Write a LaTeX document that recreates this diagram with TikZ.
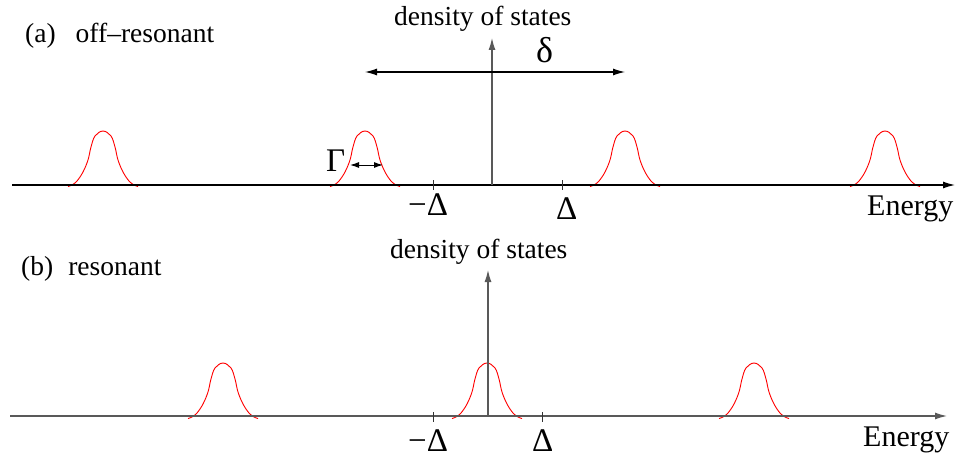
\documentclass[tikz,border=0pt]{standalone}
\usepackage{fontspec}
\setmainfont{Liberation Serif}
\usetikzlibrary{arrows.meta}
\tikzset{
  axisline/.style={line width=1.2pt, draw=black},
  axisgray/.style={line width=1.2pt, draw=black!65},
  arr/.style={-{Latex[length=12pt,width=7pt]}},
  darr/.style={{Latex[length=12pt,width=7pt]}-{Latex[length=12pt,width=7pt]}},
  sarr/.style={{Latex[length=9pt,width=6pt]}-{Latex[length=9pt,width=6pt]}, line width=1pt},
  pulse/.style={draw=red, line width=0.9pt},
  tick/.style={line width=1pt, draw=black!80},
  lbl/.style={font=\fontsize{27.5}{30}\selectfont, anchor=base west, inner sep=0pt},
  elbl/.style={font=\fontsize{30}{32}\selectfont, anchor=base west, inner sep=0pt},
  dlbl/.style={font=\fontsize{36}{38}\selectfont, anchor=base west, inner sep=0pt},
  glbl/.style={font=\fontsize{33}{35}\selectfont, anchor=base west, inner sep=0pt},
}
\newcommand\drawpulse[2]{\draw[pulse, shift={(#1,#2)}] plot[smooth, tension=0.6] coordinates {(-35,1.5) (-31,0) (-26,-4) (-20,-13) (-15,-25) (-12,-38) (-8,-49) (0,-54) (8,-49) (12,-38) (15,-25) (20,-13) (26,-4) (31,0) (35,1.5)};}
\begin{document}
\begin{tikzpicture}[x=1pt,y=-1pt]
\useasboundingbox (0,0) rectangle (961,460);
% ---------- panel (a)
\coordinate (a0) at (12,185);
\coordinate (a1) at (955,185);
\coordinate (av0) at (492,185);
\coordinate (av1) at (492,38);
\coordinate (d0) at (365,72);
\coordinate (d1) at (625,72);
\coordinate (g0) at (350,165);
\coordinate (g1) at (383,165);
\drawpulse{103}{185}
\drawpulse{365}{185}
\drawpulse{625}{185}
\drawpulse{885}{185}
\draw[axisline, arr] (a0) -- (a1);
\draw[axisgray, arr] (av0) -- (av1);
\draw[line width=1.1pt, darr] (d0) -- (d1);
\draw[sarr] (g0) -- (g1);
\coordinate (ta1) at (433,180); \coordinate (ta2) at (433,190);
\coordinate (tb1) at (562,180); \coordinate (tb2) at (562,190);
\draw[tick] (ta1) -- (ta2);
\draw[tick] (tb1) -- (tb2);
\node[lbl] (la) at (25,43) {(a)\hspace{20pt}off–resonant};
\node[lbl] (dosa) at (394,26) {density of states};
\node[dlbl] (delta) at (536,63) {δ};
\node[glbl] (gam) at (326,171) {Γ};
\node[glbl] (mda) at (408,215) {−Δ};
\node[glbl] (pda) at (556,219) {Δ};
\node[elbl] (ena) at (867,215) {Energy};
% ---------- panel (b)
\coordinate (b0) at (10,416);
\coordinate (b1) at (947,416);
\coordinate (bv0) at (488,416);
\coordinate (bv1) at (488,270);
\drawpulse{223}{417}
\drawpulse{487}{417}
\drawpulse{754}{417}
\draw[axisgray, arr] (b0) -- (b1);
\draw[axisgray, arr] (bv0) -- (bv1);
\coordinate (tc1) at (433,412); \coordinate (tc2) at (433,422);
\coordinate (td1) at (542,412); \coordinate (td2) at (542,422);
\draw[tick] (tc1) -- (tc2);
\draw[tick] (td1) -- (td2);
\node[lbl] (lb) at (21,275) {(b)\hspace{15pt}resonant};
\node[lbl] (dosb) at (390,258) {density of states};
\node[glbl] (mdb) at (408,451) {−Δ};
\node[glbl] (pdb) at (532,451) {Δ};
\node[elbl] (enb) at (863,446) {Energy};
\end{tikzpicture}
\end{document}
